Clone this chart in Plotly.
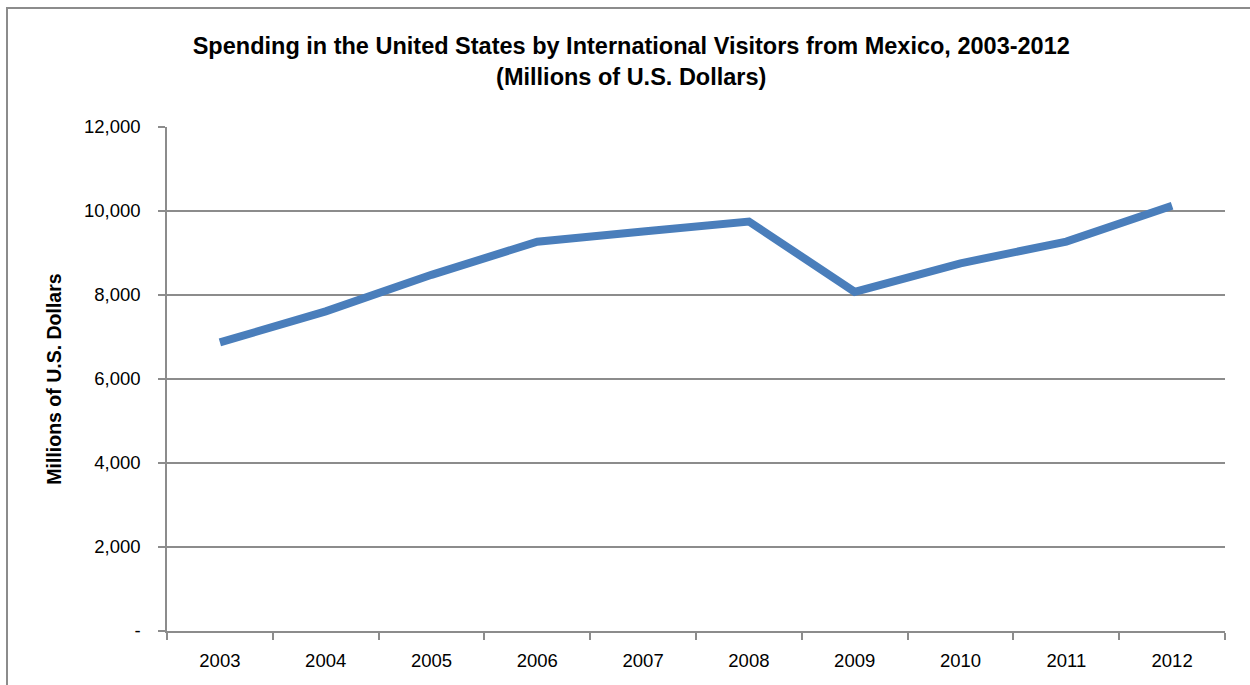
import plotly.graph_objects as go

years = ["2003", "2004", "2005", "2006", "2007", "2008", "2009", "2010", "2011", "2012"]
spending = [6870, 7610, 8480, 9270, 9510, 9750, 8075, 8755, 9270, 10125]
y_tickvals = [0, 2000, 4000, 6000, 8000, 10000, 12000]
y_ticktext = ["-", "2,000", "4,000", "6,000", "8,000", "10,000", "12,000"]

FONT = "Liberation Sans Narrow, Arial Narrow, Liberation Sans, Arial, sans-serif"
AXIS_COLOR = "#8c8c8c"

fig = go.Figure()
fig.add_trace(go.Scatter(
    x=years, y=spending, mode="lines",
    line=dict(color="#4a7ebb", width=8),
    showlegend=False,
))

fig.update_layout(
    width=1250, height=685,
    margin=dict(l=167, r=25, t=127, b=54),
    paper_bgcolor="white", plot_bgcolor="white",
    font=dict(family=FONT, size=18, color="black"),
    title=dict(
        text="<b>Spending in the United States by International Visitors from Mexico, 2003-2012<br>(Millions of U.S. Dollars)</b>",
        x=0.505, xanchor="center", y=0.921, yanchor="middle",
        font=dict(family=FONT, size=23.5, color="black"),
    ),
    xaxis=dict(
        type="category", tickson="boundaries", range=[-0.5, 9.5],
        showgrid=False, showline=True, linecolor=AXIS_COLOR, linewidth=1.5,
        ticks="outside", ticklen=7, tickcolor=AXIS_COLOR, tickwidth=1.5,
        tickfont=dict(size=18.5), ticklabelstandoff=12,
    ),
    yaxis=dict(
        range=[0, 12000], tickvals=y_tickvals, ticktext=y_ticktext,
        showgrid=True, gridcolor=AXIS_COLOR, gridwidth=1.5,
        showline=True, linecolor=AXIS_COLOR, linewidth=1.5,
        ticks="outside", ticklen=7, tickcolor=AXIS_COLOR, tickwidth=1.5,
        tickfont=dict(size=18.5), ticklabelstandoff=14,
        zeroline=False,
        title=dict(text="<b>Millions of U.S. Dollars</b>", font=dict(size=19.5), standoff=17),
    ),
)

# outer chart frame
fig.add_shape(type="rect", xref="paper", yref="paper",
              x0=(7 - 167) / 1058, x1=(1256 - 167) / 1058,
              y0=(631.5 - 700) / 504.5, y1=(631.5 - 8) / 504.5,
              line=dict(color=AXIS_COLOR, width=2), fillcolor="rgba(0,0,0,0)", layer="below")

fig.write_html("out.html", config={"displayModeBar": False},
               post_script="document.body.style.margin='0';")
